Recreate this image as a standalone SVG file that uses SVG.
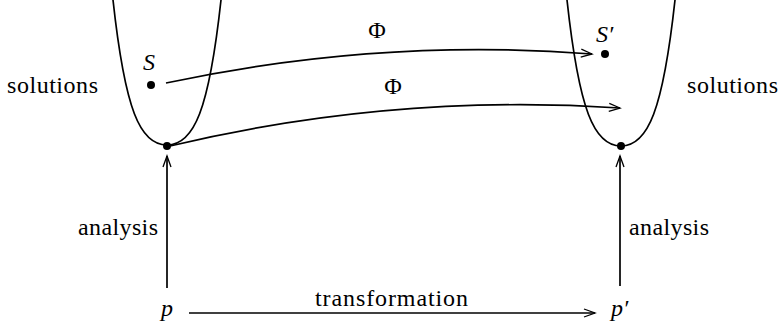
<svg xmlns="http://www.w3.org/2000/svg" width="780" height="328" viewBox="0 0 780 328">
<style>
text{font-family:'Liberation Serif','Times New Roman',serif;font-size:24px;fill:#000}
.it{font-style:italic}
.ln{fill:none;stroke:#000;stroke-width:1.7}
.dot{fill:#000}
</style>
<defs>
<marker id="ah" markerUnits="userSpaceOnUse" viewBox="-12 -6 14 12" refX="0" refY="0" markerWidth="14" markerHeight="12" orient="auto" overflow="visible">
<path d="M-11,-4 L0,0 L-11,4" fill="none" stroke="#000" stroke-width="1.3"/>
</marker>
</defs>
<g id="left-set">
<path class="ln" d="M113,0 C125,110 140,145 167,145 C194,145 209,110 221,0"/>
<circle class="dot" cx="151" cy="85" r="4"/>
<circle class="dot" cx="167" cy="146" r="4"/>
<text x="143" y="70" class="it">S</text>
<text x="7" y="93" textLength="91" lengthAdjust="spacing">solutions</text>
</g>
<g id="right-set">
<path class="ln" d="M567,0 C579,110 594,146 621,146 C648,146 663,110 675,0"/>
<circle class="dot" cx="605" cy="54" r="4"/>
<circle class="dot" cx="621" cy="146" r="4"/>
<text x="596" y="42" class="it">S′</text>
<text x="687" y="93" textLength="91" lengthAdjust="spacing">solutions</text>
</g>
<g id="p">
<text x="161" y="316" class="it">p</text>
</g>
<g id="p-prime">
<text x="611" y="316" class="it">p′</text>
</g>
<g id="connectors">
<path class="ln" d="M166,83 Q379,37.5 592,54" marker-end="url(#ah)"/>
<path class="ln" d="M170,146 Q393,93 620,108" marker-end="url(#ah)"/>
<path class="ln" d="M167,288 L167,156" marker-end="url(#ah)"/>
<path class="ln" d="M620,286 L620,156" marker-end="url(#ah)"/>
<path class="ln" d="M189,313 L595,313" marker-end="url(#ah)"/>
<text x="377" y="38" text-anchor="middle">Φ</text>
<text x="393" y="94" text-anchor="middle">Φ</text>
<text x="78" y="235" textLength="80" lengthAdjust="spacing">analysis</text>
<text x="629" y="235" textLength="80" lengthAdjust="spacing">analysis</text>
<text x="315" y="306" textLength="153" lengthAdjust="spacing">transformation</text>
</g>
</svg>
